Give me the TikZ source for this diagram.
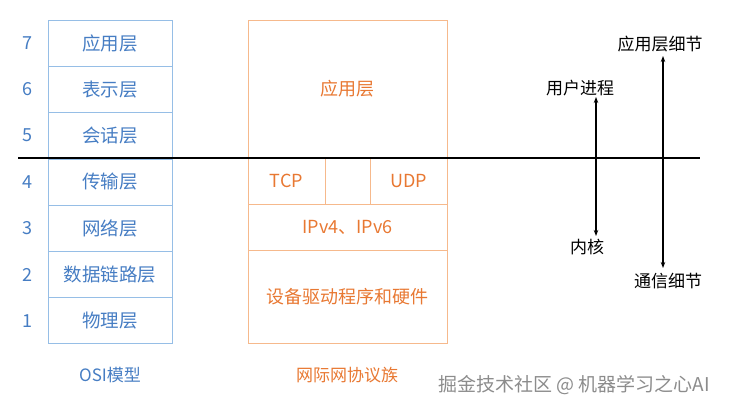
\documentclass[tikz,border=0pt]{standalone}
\usepackage{fontspec}
\setmainfont{Noto Sans CJK SC}
\usetikzlibrary{arrows.meta}
\definecolor{bl}{RGB}{150,190,230}
\definecolor{blt}{RGB}{70,125,195}
\definecolor{orb}{RGB}{246,185,140}
\definecolor{ort}{RGB}{232,120,50}
\begin{document}
\begin{tikzpicture}[x=1pt,y=-1pt,
 osi/.style={draw=bl,line width=0.8pt,minimum width=124pt,minimum height=46pt,text=blt,font=\fontsize{18.5}{20}\selectfont,inner sep=0},
 num/.style={text=blt,font=\fontsize{18}{20}\selectfont},
 tcp/.style={draw=orb,line width=0.8pt,text=ort,font=\fontsize{18}{20}\selectfont,inner sep=0},
 lab/.style={font=\fontsize{17}{20}\selectfont},
 arr/.style={{Stealth[length=6pt]}-{Stealth[length=6pt]},line width=1.2pt}]
\useasboundingbox (0,0) rectangle (729,412);
\foreach \t/\n [count=\i] in {应用层/7,表示层/6,会话层/5,传输层/4,网络层/3,数据链路层/2,物理层/1}{
  \node[osi] (o\i) at (110,{20+23+(\i-1)*46.3}) {\t};
  \node[num] (n\i) at (27,{20+23+(\i-1)*46.3}) {\n};
}
\node[text=blt,lab] (osil) at (110,375) {OSI模型};
\node[tcp,minimum width=199pt,minimum height=138pt] (app) at (347.5,89) {应用层};
\node[tcp,minimum width=77pt,minimum height=46pt] (tcpn) at (286.5,181) {TCP};
\node[tcp,minimum width=45pt,minimum height=46pt] (mid) at (347.5,181) {};
\node[tcp,minimum width=77pt,minimum height=46pt] (udp) at (408.5,181) {UDP};
\node[tcp,minimum width=199pt,minimum height=46pt] (ip) at (347.5,227) {IPv4、IPv6};
\node[tcp,minimum width=199pt,minimum height=93pt] (dev) at (347.5,296.5) {设备驱动程序和硬件};
\node[text=ort,lab] (tcpl) at (347,375) {网际网协议族};
\coordinate (l1) at (18,158); \coordinate (l2) at (700,158);
\draw[line width=1.3pt] (l1) -- (l2);
\node[lab] (up) at (580,88) {用户进程};
\node[lab] (kn) at (587,247) {内核};
\draw[arr] (596,97) -- (596,236);
\node[lab] (ad) at (660,44) {应用层细节};
\node[lab] (cd) at (668,281) {通信细节};
\draw[arr] (663,56) -- (663,268);
\node[text=gray!90,font=\fontsize{19}{20}\selectfont] (wm) at (574,385) {掘金技术社区 @ 机器学习之心AI};
\end{tikzpicture}
\end{document}
